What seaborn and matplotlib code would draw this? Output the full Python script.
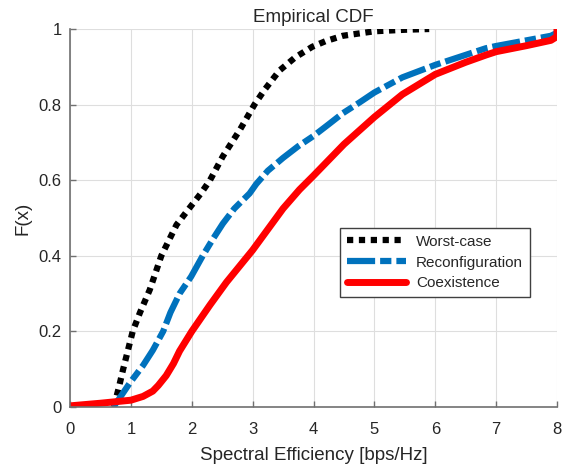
import matplotlib
matplotlib.use("Agg")
import matplotlib.pyplot as plt
import seaborn as sns
import pandas as pd

# CDF curves
x_worst = [0.72, 0.80, 0.87, 1.03, 1.15, 1.31, 1.50, 1.75, 1.97, 2.15, 2.30, 2.51,
           2.79, 3.03, 3.20, 3.44, 3.70, 3.98, 4.20, 4.48, 5.00, 5.50, 5.90]
y_worst = [0.00, 0.05, 0.098, 0.20, 0.25, 0.31, 0.40, 0.482, 0.528, 0.565, 0.60, 0.663,
           0.733, 0.80, 0.84, 0.89, 0.925, 0.953, 0.968, 0.982, 0.994, 0.998, 1.00]

x_reconf = [0.71, 0.80, 0.98, 1.20, 1.36, 1.53, 1.65, 1.80, 1.99, 2.18, 2.35, 2.51,
            2.70, 2.95, 3.06, 3.25, 3.50, 3.75, 4.00, 4.25, 4.48, 4.75, 5.00, 5.46,
            6.00, 6.83, 7.00, 7.50, 7.90, 8.00, 8.00]
y_reconf = [0.00, 0.02, 0.063, 0.11, 0.15, 0.20, 0.25, 0.30, 0.345, 0.40, 0.445, 0.485,
            0.525, 0.565, 0.59, 0.625, 0.659, 0.69, 0.717, 0.748, 0.777, 0.805, 0.832, 0.872,
            0.905, 0.949, 0.955, 0.97, 0.982, 0.99, 1.00]

x_coex = [0.00, 0.50, 1.00, 1.20, 1.36, 1.45, 1.58, 1.70, 1.80, 2.00, 2.30, 2.57,
          3.00, 3.25, 3.50, 3.77, 4.00, 4.50, 5.00, 5.46, 6.00, 6.50, 6.83, 7.00,
          7.50, 7.90, 8.00, 8.00]
y_coex = [0.003, 0.01, 0.018, 0.028, 0.042, 0.057, 0.083, 0.115, 0.148, 0.20, 0.27, 0.33,
          0.415, 0.47, 0.525, 0.575, 0.612, 0.695, 0.767, 0.827, 0.88, 0.912, 0.931, 0.94,
          0.956, 0.97, 0.98, 1.00]

labels = ["Worst-case", "Reconfiguration", "Coexistence"]

sns.set_style("white")
plt.rcParams["font.family"] = ["Liberation Sans", "DejaVu Sans"]
txt = "#262626"
axc = "#707070"

fig = plt.figure(figsize=(5.68, 4.66), dpi=100)
ax = fig.add_axes([70 / 568, 59 / 466, 487 / 568, 378 / 466])

ax.grid(True, color="#dedede", linewidth=0.8)
ax.set_axisbelow(True)

df_w = pd.DataFrame({"x": x_worst, "y": y_worst})
df_r = pd.DataFrame({"x": x_reconf, "y": y_reconf})
df_c = pd.DataFrame({"x": x_coex, "y": y_coex})

sns.lineplot(data=df_w, x="x", y="y", sort=False, estimator=None, ax=ax,
             color="black", linewidth=4.5, linestyle=(0, (1, 0.9)), label=labels[0])
sns.lineplot(data=df_r, x="x", y="y", sort=False, estimator=None, ax=ax,
             color="#0072BD", linewidth=4.5, linestyle=(0, (4.5, 0.8, 1.8, 0.8)),
             label=labels[1])
sns.lineplot(data=df_c, x="x", y="y", sort=False, estimator=None, ax=ax,
             color="#FF0000", linewidth=5, label=labels[2])

ax.set_xlim(0, 8)
ax.set_ylim(0, 1)
ax.set_xticks(range(0, 9))
ax.set_yticks([0, 0.2, 0.4, 0.6, 0.8, 1])
ax.set_yticklabels(["0", "0.2", "0.4", "0.6", "0.8", "1"])

for s in ["top", "right"]:
    ax.spines[s].set_visible(False)
for s in ["left", "bottom"]:
    ax.spines[s].set_color(axc)
    ax.spines[s].set_linewidth(1.2)

ax.tick_params(direction="in", length=4, width=1, color=axc, labelcolor=txt,
               labelsize=12, left=True, bottom=True)
ax.tick_params(axis="x", pad=11)
ax.tick_params(axis="y", pad=6)

ax.set_title("Empirical CDF", fontsize=13.5, color=txt, pad=5)
ax.set_xlabel("Spectral Efficiency [bps/Hz]", fontsize=13.5, color=txt, labelpad=7)
ax.set_ylabel("F(x)", fontsize=13.5, color=txt, labelpad=5)

leg = ax.legend(loc="upper left", bbox_to_anchor=(0.554, 0.474), fontsize=11,
                frameon=True, fancybox=False, shadow=False, framealpha=1,
                edgecolor="#404040", handlelength=3.9, borderpad=0.45,
                labelspacing=0.45, handletextpad=0.65, borderaxespad=0)
leg.get_frame().set_linewidth(1)
for t in leg.get_texts():
    t.set_color(txt)

fig.savefig("out.png", dpi=100)
